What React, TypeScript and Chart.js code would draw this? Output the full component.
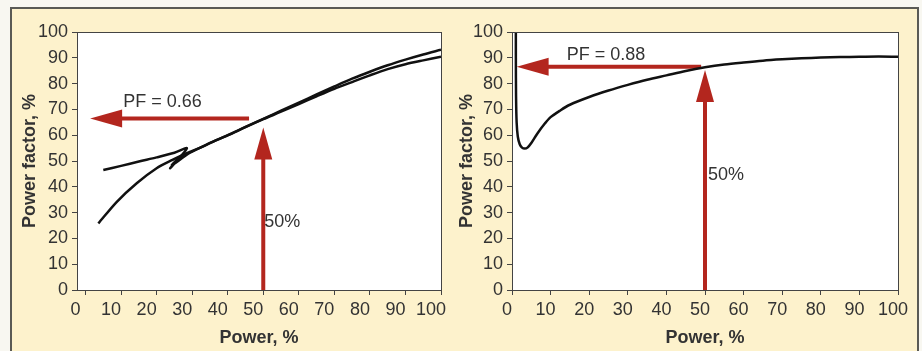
import React, { useEffect, useRef } from "react";
import { Chart, registerables } from "chart.js";

Chart.register(...registerables);

// ---------- data ----------
const xTickValues = [0, 10, 20, 30, 40, 50, 60, 70, 80, 90, 100];

// Left panel: two traces of power factor vs power
const leftAX = [5, 10, 15, 20, 25, 28.5, 23.8, 27.1, 24.3, 29.4, 34.6, 40, 45, 50, 55, 60, 65, 70, 75, 80, 85, 90, 95, 100];
const leftAY = [46.5, 48.1, 49.8, 51.4, 53.2, 54.9, 47.2, 52.3, 48.4, 53.2, 56.7, 60.0, 63.2, 66.3, 69.5, 72.6, 75.8, 78.9, 81.9, 84.6, 87.1, 89.3, 91.3, 93.1];
const leftBX = [3.6, 8.8, 14.4, 20, 24.3, 28.5, 32, 36, 40, 45, 50, 55, 60, 65, 70, 75, 80, 85, 90, 95, 100];
const leftBY = [25.8, 34.2, 41.4, 47.2, 50.3, 53.0, 55.0, 57.6, 59.9, 63.1, 66.2, 69.1, 72.1, 75.1, 78.0, 80.6, 83.2, 85.6, 87.5, 89.0, 90.4];

// Right panel: single trace
const rightX = [1.0, 1.0, 1.05, 1.2, 1.5, 2, 2.6, 3.3, 4, 5, 6.5, 8.5, 10, 12.5, 15, 20, 25, 30, 35, 40, 45, 50, 55, 60, 65, 70, 75, 80, 85, 90, 95, 100];
const rightY = [105, 90, 75, 65, 59.5, 56.5, 55.2, 54.8, 55.2, 57, 60.5, 64.5, 67, 69.6, 71.8, 74.8, 77.3, 79.5, 81.5, 83.2, 84.9, 86.3, 87.4, 88.2, 88.9, 89.4, 89.8, 90.1, 90.3, 90.4, 90.5, 90.4];

// Annotation arrows (data units): [fromX, fromY, tipX, tipY]
const leftPFArrow = [46, 66.5, 1.3, 66.5];
const leftPowerArrow = [50, 0, 50, 63];
const rightPFArrow = [49, 86.5, 1.2, 86.5];
const rightPowerArrow = [50, 0, 50, 85.3];

// Annotation texts: [text, x, y]
const leftTexts: [string, number, number][] = [["PF = 0.66", 10.6, 72.9], ["50%", 50.3, 26.4]];
const rightTexts: [string, number, number][] = [["PF = 0.88", 14.2, 91.1], ["50%", 50.8, 44.6]];

// ---------- styles ----------
const FONT = "'Liberation Sans', Arial, sans-serif";
const TEXT = "#333333";
const AXIS = "#444444";
const RED = "#b3261e";
const BEIGE = "#fdf2cc";

function pts(xs: number[], ys: number[]) {
  return xs.map((x, i) => ({ x, y: ys[i] }));
}

function drawArrow(ctx: CanvasRenderingContext2D, x1: number, y1: number, x2: number, y2: number) {
  const shaft = 4;
  const headLen = 32;
  const headW = 18;
  const dx = x2 - x1, dy = y2 - y1;
  const len = Math.hypot(dx, dy);
  const ux = dx / len, uy = dy / len;
  const bx = x2 - ux * headLen, by = y2 - uy * headLen;
  ctx.save();
  ctx.strokeStyle = RED;
  ctx.fillStyle = RED;
  ctx.lineWidth = shaft;
  ctx.lineCap = "butt";
  ctx.beginPath();
  ctx.moveTo(x1, y1);
  ctx.lineTo(bx + ux * 2, by + uy * 2);
  ctx.stroke();
  ctx.beginPath();
  ctx.moveTo(x2, y2);
  ctx.lineTo(bx - uy * headW / 2, by + ux * headW / 2);
  ctx.lineTo(bx + uy * headW / 2, by - ux * headW / 2);
  ctx.closePath();
  ctx.fill();
  ctx.restore();
}

type PanelCfg = {
  datasets: { xs: number[]; ys: number[] }[];
  arrows: number[][];
  texts: [string, number, number][];
  xMin: number;
  padLeft: number;
  padRight: number;
  yWidth: number;
  titlePad: number;
  labelOffset: number;
};

function makeChart(canvas: HTMLCanvasElement, cfg: PanelCfg) {
  const framePlugin = {
    id: "frame",
    beforeDraw(chart: any) {
      const { ctx, chartArea: a } = chart;
      ctx.save();
      ctx.fillStyle = "#ffffff";
      ctx.fillRect(a.left, a.top, a.right - a.left, a.bottom - a.top);
      ctx.restore();
    },
    beforeDatasetsDraw(chart: any) {
      const { ctx, scales } = chart;
      const xs = scales.x, ys = scales.y;
      for (const a of cfg.arrows) {
        drawArrow(ctx, xs.getPixelForValue(a[0]), ys.getPixelForValue(a[1]), xs.getPixelForValue(a[2]), ys.getPixelForValue(a[3]));
      }
      ctx.save();
      ctx.fillStyle = TEXT;
      ctx.font = `18px ${FONT}`;
      ctx.textAlign = "left";
      ctx.textBaseline = "middle";
      for (const [t, x, y] of cfg.texts) {
        ctx.fillText(t, xs.getPixelForValue(x), ys.getPixelForValue(y));
      }
      ctx.restore();
    },
    afterDraw(chart: any) {
      const { ctx, chartArea: a } = chart;
      ctx.save();
      ctx.strokeStyle = AXIS;
      ctx.lineWidth = 1;
      ctx.strokeRect(Math.round(a.left) + 0.5, Math.round(a.top) + 0.5, Math.round(a.right - a.left), Math.round(a.bottom - a.top));
      ctx.restore();
    },
  };

  return new Chart(canvas, {
    type: "scatter",
    data: {
      datasets: cfg.datasets.map((d) => ({
        data: pts(d.xs, d.ys),
        showLine: true,
        borderColor: "#111111",
        borderWidth: 2.5,
        pointRadius: 0,
        tension: 0.3,
        fill: false,
      })),
    },
    options: {
      responsive: false,
      animation: false,
      devicePixelRatio: 1,
      layout: { padding: { left: cfg.padLeft, right: cfg.padRight, top: 32, bottom: 0 } },
      plugins: { legend: { display: false }, tooltip: { enabled: false } },
      scales: {
        x: {
          type: "linear",
          min: cfg.xMin,
          max: 100,
          afterBuildTicks: (s: any) => {
            s.ticks = xTickValues.map((v) => ({ value: v }));
          },
          afterFit: (s: any) => {
            s.height = 61;
          },
          grid: { drawOnChartArea: false, drawTicks: true, tickLength: 5, color: AXIS },
          border: { display: true, color: AXIS },
          ticks: {
            color: TEXT,
            font: { family: FONT, size: 18 },
            padding: 4,
            labelOffset: cfg.labelOffset,
            maxRotation: 0,
            autoSkip: false,
          },
          title: {
            display: true,
            text: "Power, %",
            color: TEXT,
            font: { family: FONT, size: 18, weight: "bold" },
            padding: { top: 0, bottom: 2 },
          },
        },
        y: {
          type: "linear",
          min: 0,
          max: 100,
          afterFit: (s: any) => {
            s.width = cfg.yWidth;
          },
          grid: { drawOnChartArea: false, drawTicks: true, tickLength: 5, color: AXIS },
          border: { display: true, color: AXIS },
          ticks: {
            stepSize: 10,
            autoSkip: false,
            color: TEXT,
            font: { family: FONT, size: 18 },
            padding: 4,
          },
          title: {
            display: true,
            text: "Power factor, %",
            color: TEXT,
            font: { family: FONT, size: 18, weight: "bold" },
            padding: { top: cfg.titlePad, bottom: 0 },
          },
        },
      },
    },
    plugins: [framePlugin],
  } as any);
}

const leftCfg: PanelCfg = {
  datasets: [
    { xs: leftAX, ys: leftAY },
    { xs: leftBX, ys: leftBY },
  ],
  arrows: [leftPFArrow, leftPowerArrow],
  texts: leftTexts,
  xMin: -2.4,
  padLeft: 10,
  padRight: 481,
  yWidth: 67,
  titlePad: 9,
  labelOffset: -10,
};

const rightCfg: PanelCfg = {
  datasets: [{ xs: rightX, ys: rightY }],
  arrows: [rightPFArrow, rightPowerArrow],
  texts: rightTexts,
  xMin: 0,
  padLeft: 448,
  padRight: 24,
  yWidth: 64,
  titlePad: 8,
  labelOffset: -5,
};

function Panel({ cfg }: { cfg: PanelCfg }) {
  const ref = useRef<HTMLCanvasElement>(null);
  useEffect(() => {
    if (!ref.current) return;
    const chart = makeChart(ref.current, cfg);
    return () => chart.destroy();
  }, [cfg]);
  return (
    <canvas
      ref={ref}
      width={922}
      height={351}
      style={{ position: "absolute", left: 0, top: 0, width: 922, height: 351 }}
    />
  );
}

export default function App() {
  return (
    <div
      style={{
        position: "fixed",
        left: 0,
        top: 0,
        width: 922,
        height: 351,
        background: "#f8f7f1",
        overflow: "hidden",
      }}
    >
      <div
        style={{
          position: "absolute",
          left: 10,
          top: 7,
          width: 905,
          height: 350,
          background: BEIGE,
          borderLeft: "2px solid #5a5a55",
          borderTop: "2px solid #5a5a55",
          borderRight: "2px solid #5a5a55",
        }}
      />
      <Panel cfg={leftCfg} />
      <Panel cfg={rightCfg} />
    </div>
  );
}
